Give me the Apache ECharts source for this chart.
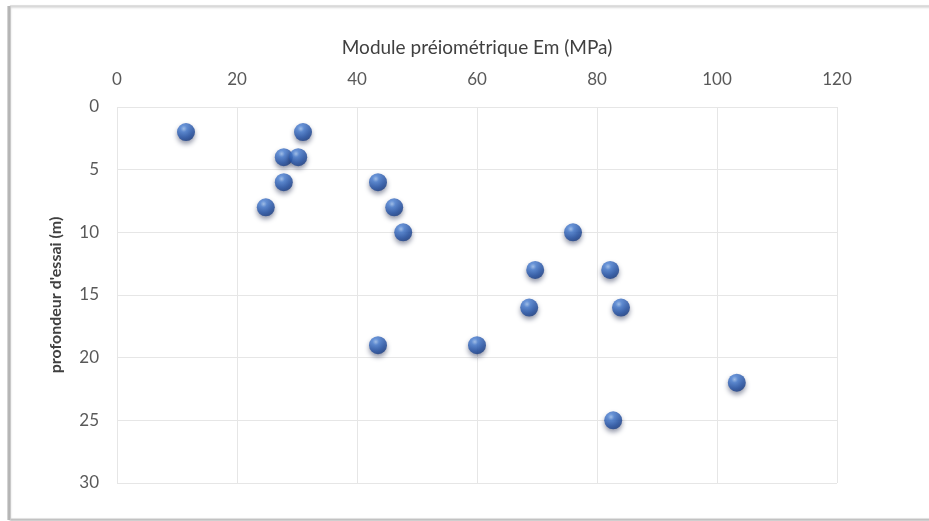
<!DOCTYPE html>
<html>
<head>
<meta charset="utf-8">
<title>Module préiométrique</title>
<script src="https://cdn.jsdelivr.net/npm/echarts@6/dist/echarts.min.js"></script>
<style>
  html, body { margin: 0; padding: 0; background: #ffffff; }
  #chart { width: 929px; height: 521px; }
</style>
</head>
<body>
<div id="chart"></div>
<script>
// Pressuremeter modulus (MPa) against test depth (m)
const moduleEm = [11.5, 31, 27.8, 30.2, 27.8, 24.8, 43.5, 46.2, 47.7, 76, 69.7, 82.2, 68.7, 84, 43.5, 60, 103.3, 82.7];
const depth    = [2,    2,  4,    4,    6,    8,    6,    8,    10,   10, 13,   13,   16,   16, 19,   19, 22,    25];

const xTicks = { min: 0, max: 120, step: 20 };
const yTicks = { min: 0, max: 30, step: 5 };

const xTitle = 'Module préiométrique Em (MPa)';
const yTitle = "profondeur d'essai (m)";

const points = moduleEm.map((v, i) => [v, depth[i]]);

const fontFamily = 'Lato, "Open Sans", "Liberation Sans", sans-serif';

// glossy blue ball for each measurement
const sphere = new echarts.graphic.RadialGradient(0.38, 0.32, 0.72, [
  { offset: 0,    color: '#9cc0f0' },
  { offset: 0.25, color: '#4a80d4' },
  { offset: 0.7,  color: '#2352a6' },
  { offset: 1,    color: '#173a80' }
]);

const chart = echarts.init(document.getElementById('chart'), null, { renderer: 'canvas' });

chart.setOption({
  backgroundColor: '#ffffff',
  animation: false,
  graphic: [
    {
      // chart frame
      type: 'rect',
      z: -10,
      silent: true,
      shape: { x: 10, y: 6, width: 940, height: 513 },
      style: {
        fill: '#ffffff',
        stroke: '#cdcdcd',
        lineWidth: 1,
        shadowColor: 'rgba(0,0,0,0.3)',
        shadowBlur: 2,
        shadowOffsetX: 0,
        shadowOffsetY: 1
      }
    },
    {
      // darker left edge of the frame
      type: 'rect',
      z: -9,
      silent: true,
      shape: { x: 7, y: 6, width: 4, height: 514 },
      style: {
        fill: new echarts.graphic.LinearGradient(0, 0, 1, 0, [
          { offset: 0, color: '#e2e2e2' },
          { offset: 0.5, color: '#a9a9a9' },
          { offset: 1, color: '#d4d4d4' }
        ])
      }
    }
  ],
  grid: { left: 117, right: 92, top: 107, bottom: 38, containLabel: false },
  xAxis: {
    type: 'value',
    position: 'top',
    min: xTicks.min,
    max: xTicks.max,
    interval: xTicks.step,
    name: xTitle,
    nameLocation: 'middle',
    nameGap: 50,
    nameTextStyle: { color: '#404040', fontSize: 19, fontFamily: fontFamily },
    axisLine: { show: false },
    axisTick: { show: false },
    axisLabel: { color: '#595959', fontSize: 17, fontFamily: fontFamily, margin: 19 },
    splitLine: { show: true, lineStyle: { color: '#e6e6e6', width: 1 } }
  },
  yAxis: {
    type: 'value',
    inverse: true,
    min: yTicks.min,
    max: yTicks.max,
    interval: yTicks.step,
    name: yTitle,
    nameLocation: 'middle',
    nameRotate: 90,
    nameGap: 53,
    nameTextStyle: { color: '#404040', fontSize: 16, fontWeight: 'bold', fontFamily: fontFamily },
    axisLine: { show: false },
    axisTick: { show: false },
    axisLabel: { color: '#595959', fontSize: 17, fontFamily: fontFamily, margin: 18 },
    splitLine: { show: true, lineStyle: { color: '#e6e6e6', width: 1 } }
  },
  series: [{
    type: 'scatter',
    data: points,
    symbol: 'circle',
    symbolSize: 18,
    itemStyle: {
      color: sphere,
      shadowColor: 'rgba(10,20,60,0.55)',
      shadowBlur: 5,
      shadowOffsetX: 0,
      shadowOffsetY: 3
    }
  }]
});
</script>
</body>
</html>
